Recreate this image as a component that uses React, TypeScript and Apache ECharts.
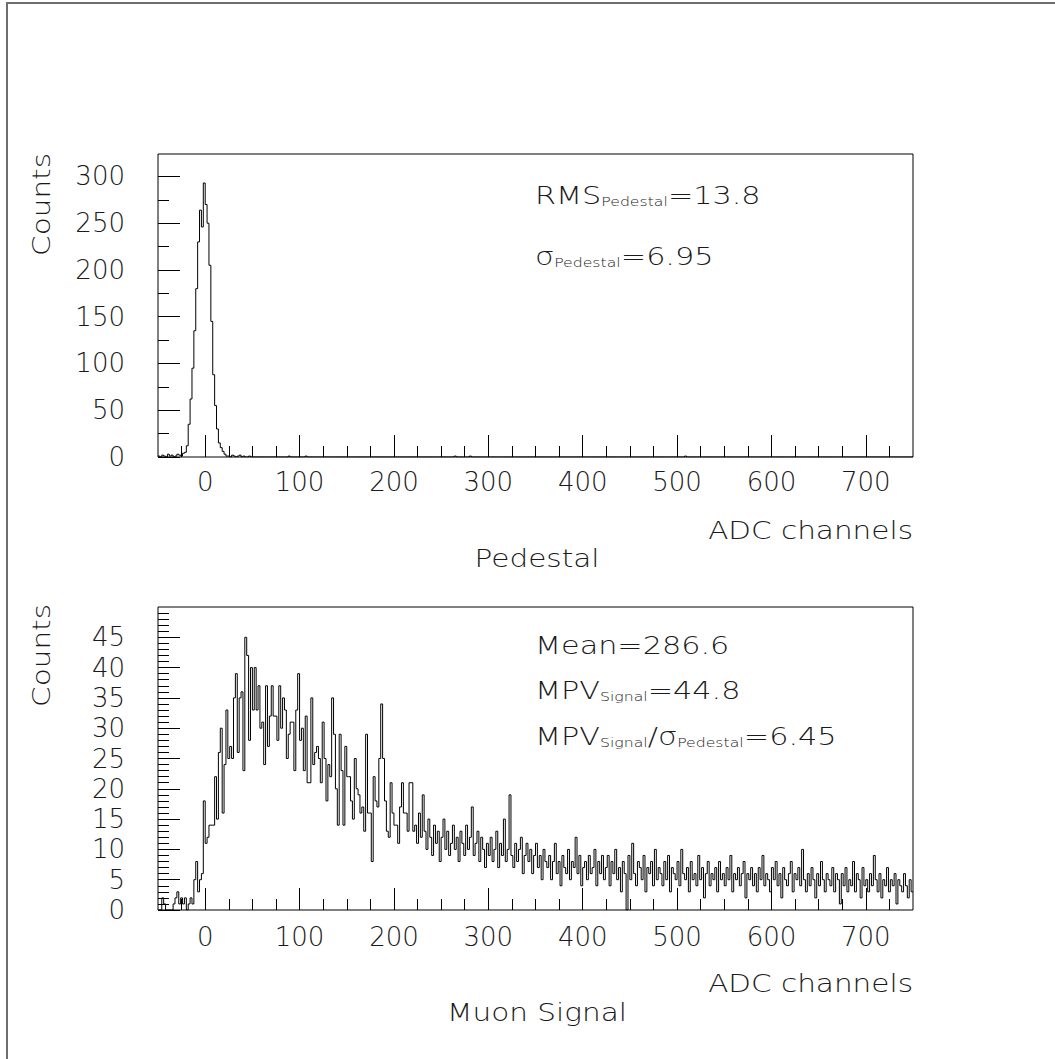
import React, { useEffect, useRef } from "react";
import * as echarts from "echarts";

// ---------- data ----------
const X_MIN = -50;
const X_MAX = 750;
const BIN_WIDTH = 2;
const X_MAJOR_TICKS = [0, 100, 200, 300, 400, 500, 600, 700];

const PED_Y_MAX = 324;
const PED_Y_TICKS = [0, 50, 100, 150, 200, 250, 300];
const SIG_Y_MAX = 50;
const SIG_Y_TICKS = [0, 5, 10, 15, 20, 25, 30, 35, 40, 45];

// pedestal histogram, bins of 2 ADC from -50 to 50
const pedestalCounts = [
  1, 0, 2, 1, 0, 3, 1, 2, 0, 1,
  3, 2, 1, 4, 5, 12, 35, 62, 95, 135,
  180, 230, 264, 246, 293, 270, 250, 205, 145, 88,
  55, 30, 15, 10, 6, 3, 1, 1, 0, 2,
  1, 0, 1, 2, 0, 1, 0, 0, 1, 0,
];
// isolated entries further out: [bin low edge (ADC), counts]
const pedestalOutliers = [
  [88, 1], [106, 1], [264, 1], [280, 1], [508, 1],
];

// muon signal histogram, bins of 2 ADC from -50 to 750
const signalCounts = [
  0, 0, 2, 1, 0, 0, 0, 0, 1, 2, 3, 1, 2, 1, 2, 0, 1, 2, 1, 5,
  8, 3, 5, 6, 18, 11, 12, 14, 14, 14,
  22, 15, 26, 30, 16, 24, 33, 25, 27, 25,
  35, 39, 26, 35, 36, 23, 45, 42, 28, 40,
  33, 40, 33, 37, 30, 31, 24, 37, 27, 32,
  37, 32, 32, 28, 37, 30, 35, 33, 25, 29,
  31, 31, 23, 33, 39, 28, 30, 23, 32, 21,
  21, 35, 24, 26, 27, 25, 21, 31, 25, 18,
  24, 22, 35, 29, 20, 14, 29, 23, 14, 27,
  22, 22, 18, 15, 25, 20, 19, 16, 17, 13,
  29, 16, 16, 8, 22, 18, 17, 25, 34, 25,
  18, 13, 12, 21, 16, 14, 14, 11, 17, 21,
  16, 16, 13, 21, 21, 13,
  14, 11, 16, 12, 19, 13, 10, 15, 12, 9,
  14, 11, 13, 8, 12, 15, 10, 13, 9, 11,
  14, 10, 12, 8, 13, 11, 9, 14, 10, 12,
  17, 9, 11, 13, 8, 12, 10, 7, 11, 9,
  12, 8, 10, 13, 7, 11, 9, 15, 8, 10,
  19, 9, 7, 11, 8, 10, 12, 6, 9, 11,
  8, 10, 6, 9, 11, 7, 9, 5, 10, 8,
  7, 9, 5, 8, 11, 6, 8, 4, 9, 7,
  6, 10, 5, 8, 7, 12, 6, 9, 4, 7,
  8, 5, 9, 6, 7, 10, 4, 8, 6, 9,
  5, 7, 9, 4, 8, 6, 10, 5, 7, 3,
  8, 6, 0, 9, 5, 11, 6, 4, 8, 7,
  5, 9, 3, 7, 6, 8, 4, 10, 5, 7,
  6, 4, 8, 5, 9, 3, 7, 6, 5, 8,
  4, 10, 6, 5, 7, 3, 8, 5, 6, 4,
  9, 5, 7, 2, 6, 8, 4, 6, 5, 7,
  3, 8, 5, 6, 4, 7, 5, 9, 3, 6,
  5, 7, 4, 6, 8, 2, 6, 5, 7, 4,
  6, 3, 7, 5, 9, 4, 6, 5, 3, 7,
  5, 8, 4, 6, 2, 7, 5, 4, 6, 8,
  3, 6, 5, 7, 4, 10, 5, 3, 6, 4,
  7, 5, 2, 6, 4, 8, 5, 3, 6, 5,
  4, 7, 3, 6, 5, 1, 6, 4, 7, 3,
  5, 4, 8, 3, 6, 5, 2, 7, 4, 5,
  3, 6, 4, 9, 5, 3, 6, 2, 5, 4,
  7, 3, 5, 4, 6, 1, 5, 4, 3, 6,
  4, 2, 5, 3,
];

const pedestalTexts = [
  { main: "RMS", sub: "Pedestal", value: "=13.8" },
  { main: "σ", sub: "Pedestal", value: "=6.95" },
];

// ---------- helpers ----------
const FONT = '"DejaVu Sans", sans-serif';
const FW = 200;
const INK = "#1a1a1a";
const NBINS = Math.round((X_MAX - X_MIN) / BIN_WIDTH);

function fullPedestal() {
  const arr = new Array(NBINS).fill(0);
  pedestalCounts.forEach((c, i) => (arr[i] = c));
  pedestalOutliers.forEach(([lo, c]) => {
    arr[Math.round((lo - X_MIN) / BIN_WIDTH)] = c;
  });
  return arr;
}

function stepData(counts: number[]) {
  const d = counts.map((c, i) => [X_MIN + i * BIN_WIDTH, c]);
  d.push([X_MIN + counts.length * BIN_WIDTH, counts[counts.length - 1]]);
  return d;
}

function minorTicks(min: number, max: number, step: number, majorStep: number) {
  const out: number[] = [];
  for (let v = Math.ceil(min / step) * step; v <= max; v += step) {
    if (v === min || v === max) continue;
    if (v % majorStep === 0) continue;
    out.push(v);
  }
  return out;
}

const labelStyle = { fontSize: 26, fontFamily: FONT, fontWeight: FW, color: INK };
const tickLine = { color: "#000", width: 1 };

function xAxes(grid: number, labelMargin: number) {
  return [
    {
      type: "value", gridIndex: grid, min: X_MIN, max: X_MAX, position: "bottom",
      axisLine: { show: false, onZero: false }, splitLine: { show: false },
      axisTick: { show: true, inside: true, length: 22, customValues: X_MAJOR_TICKS, lineStyle: tickLine },
      axisLabel: { show: true, customValues: X_MAJOR_TICKS, margin: labelMargin, ...labelStyle },
    },
    {
      type: "value", gridIndex: grid, min: X_MIN, max: X_MAX, position: "bottom",
      axisLine: { show: false, onZero: false }, splitLine: { show: false },
      axisTick: { show: true, inside: true, length: 11, customValues: minorTicks(X_MIN, X_MAX, 25, 100), lineStyle: tickLine },
      axisLabel: { show: false },
    },
  ];
}

function yAxes(grid: number, max: number, ticks: number[], minorStep: number, majorStep: number) {
  return [
    {
      type: "value", gridIndex: grid, min: 0, max, position: "left",
      axisLine: { show: false, onZero: false }, splitLine: { show: false },
      axisTick: { show: true, inside: true, length: 22, customValues: ticks, lineStyle: tickLine },
      axisLabel: { show: true, customValues: ticks, margin: 33, ...labelStyle },
    },
    {
      type: "value", gridIndex: grid, min: 0, max, position: "left",
      axisLine: { show: false, onZero: false }, splitLine: { show: false },
      axisTick: { show: true, inside: true, length: 11, customValues: minorTicks(0, max, minorStep, majorStep), lineStyle: tickLine },
      axisLabel: { show: false },
    },
  ];
}

const SX = 1.18;
function plainText(text: string, x: number, y: number, align: string, size: number, rotation = 0) {
  return {
    type: "text", x, y, rotation, scaleX: SX, silent: true,
    style: { text, fontSize: size, fontFamily: FONT, fontWeight: FW, fill: INK, textAlign: align, textVerticalAlign: "middle" },
  };
}

const richDef = {
  m: { fontSize: 25, fontFamily: FONT, fontWeight: FW, fill: INK, color: INK, lineHeight: 25, verticalAlign: "bottom" },
  s: { fontSize: 13, fontFamily: FONT, fontWeight: FW, fill: INK, color: INK, lineHeight: 13, verticalAlign: "bottom" },
};
function richText(text: string, x: number, y: number) {
  return {
    type: "text", x, y, scaleX: 1.21, silent: true,
    style: { text, rich: richDef, textAlign: "left", textVerticalAlign: "bottom", fontFamily: FONT, fill: INK },
  };
}

export default function App() {
  const ref = useRef<HTMLDivElement>(null);
  useEffect(() => {
    const chart = echarts.init(ref.current!, null, { renderer: "svg" });
    const grids = [
      { left: 158, top: 154, width: 755, height: 303 },
      { left: 158, top: 607, width: 755, height: 303 },
    ].map((g) => ({ ...g, show: true, borderColor: "#000", borderWidth: 1, backgroundColor: "transparent" }));

    const option: any = {
      animation: false,
      backgroundColor: "#fff",
      grid: grids,
      xAxis: [...xAxes(0, 12), ...xAxes(1, 14)],
      yAxis: [
        ...yAxes(0, PED_Y_MAX, PED_Y_TICKS, 25, 50),
        ...yAxes(1, SIG_Y_MAX, SIG_Y_TICKS, 1, 5),
      ],
      series: [
        {
          type: "line", xAxisIndex: 0, yAxisIndex: 0, data: stepData(fullPedestal()), step: "end",
          symbol: "none", silent: true, lineStyle: { color: "#000", width: 1 },
        },
        {
          type: "line", xAxisIndex: 2, yAxisIndex: 2, data: stepData(signalCounts), step: "end",
          symbol: "none", silent: true, lineStyle: { color: "#000", width: 1 },
        },
      ],
      graphic: [
        { type: "rect", shape: { x: 7, y: 3, width: 1060, height: 1070 }, style: { fill: "none", stroke: "#6e6e6e", lineWidth: 2 }, silent: true },
        plainText("Counts", 41, 153, "right", 25, Math.PI / 2),
        plainText("Counts", 41, 604, "right", 25, Math.PI / 2),
        plainText("ADC channels", 913, 530, "right", 25),
        plainText("ADC channels", 913, 983, "right", 25),
        plainText("Pedestal", 537, 558, "center", 25),
        plainText("Muon Signal", 537, 1012, "center", 25),
        richText(`{m|${pedestalTexts[0].main}}{s|${pedestalTexts[0].sub}}{m|${pedestalTexts[0].value}}`, 535, 208),
        richText(`{m|${pedestalTexts[1].main}}{s|${pedestalTexts[1].sub}}{m|${pedestalTexts[1].value}}`, 535, 269),
        richText("{m|Mean=286.6}", 535, 658),
        richText("{m|MPV}{s|Signal}{m|=44.8}", 535, 703),
        richText("{m|MPV}{s|Signal}{m|/σ}{s|Pedestal}{m|=6.45}", 535, 749),
      ],
    };
    chart.setOption(option);
    return () => chart.dispose();
  }, []);
  return (
    <div
      ref={ref}
      style={{ position: "absolute", left: 0, top: 0, width: 1055, height: 1059 }}
    />
  );
}
